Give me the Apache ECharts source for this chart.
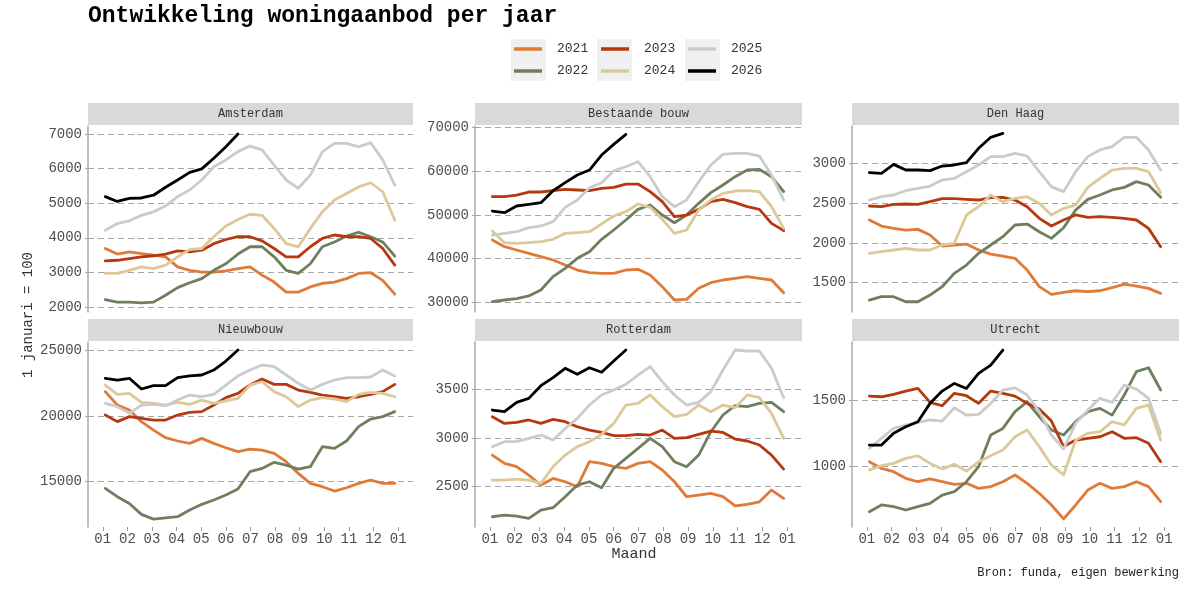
<!DOCTYPE html>
<html>
<head>
<meta charset="utf-8">
<script src="https://cdn.jsdelivr.net/npm/echarts@6/dist/echarts.min.js"></script>
<style>
  html, body { margin: 0; background: #fff; }
  #main { width: 1200px; height: 600px; }
</style>
</head>
<body>
<div id="main"></div>
<script>
// jaren en panelen
const years = ['2021', '2022', '2023', '2024', '2025', '2026']
const panelNames = ['Amsterdam', 'Bestaande bouw', 'Den Haag', 'Nieuwbouw', 'Rotterdam', 'Utrecht']
const monthLabels = ['01', '02', '03', '04', '05', '06', '07', '08', '09', '10', '11', '12', '01']

// meetmomenten (in maanden sinds 1 januari), ongeveer elke twee weken
const sampleMonths = [0.1, 0.59, 1.08, 1.57, 2.06, 2.55, 3.04, 3.53, 4.02, 4.51, 5.0, 5.49,
  5.98, 6.47, 6.96, 7.45, 7.94, 8.43, 8.92, 9.41, 9.9, 10.39, 10.88, 11.37, 11.86]

// aanbod per paneel, rijen = 2021 .. 2026
const amsterdam = [
  [3690, 3530, 3590, 3540, 3500, 3450, 3160, 3060, 3010, 3010, 3040, 3110, 3160, 2920, 2720, 2430, 2430, 2580, 2680, 2720, 2820, 2970, 2990, 2770, 2370],
  [2210, 2140, 2140, 2120, 2140, 2340, 2560, 2700, 2820, 3060, 3250, 3530, 3740, 3740, 3450, 3060, 2970, 3250, 3740, 3880, 4050, 4160, 4030, 3880, 3470],
  [3330, 3350, 3400, 3450, 3480, 3530, 3620, 3590, 3640, 3830, 3950, 4030, 4030, 3910, 3690, 3450, 3450, 3740, 3980, 4080, 4030, 4030, 3980, 3690, 3210],
  [2970, 2970, 3060, 3160, 3110, 3210, 3450, 3660, 3690, 4030, 4340, 4530, 4680, 4650, 4270, 3830, 3740, 4270, 4750, 5090, 5280, 5470, 5590, 5330, 4510],
  [4220, 4410, 4490, 4650, 4750, 4920, 5190, 5380, 5670, 6050, 6250, 6490, 6650, 6540, 6100, 5670, 5430, 5810, 6490, 6730, 6730, 6630, 6750, 6250, 5520],
  [5190, 5050, 5140, 5150, 5230, 5460, 5670, 5890, 5990, 6300, 6630, 7000]
]
const bestaandeBouw = [
  [44230, 42700, 41930, 41170, 40400, 39640, 38490, 37340, 36730, 36580, 36580, 37340, 37500, 36200, 33520, 30460, 30610, 33140, 34440, 35050, 35430, 35810, 35430, 35050, 32140],
  [30080, 30460, 30770, 31380, 32750, 35810, 37720, 40020, 41550, 44380, 46520, 48820, 51260, 52260, 49960, 48200, 49960, 52640, 55090, 56850, 58760, 60290, 60440, 58760, 55320],
  [54170, 54170, 54550, 55240, 55240, 55540, 55850, 55700, 55540, 56080, 56310, 57070, 57070, 55320, 53020, 49580, 49960, 51260, 53020, 53560, 52790, 51870, 51260, 48050, 46370],
  [46290, 43610, 43460, 43610, 43840, 44380, 45750, 45910, 46130, 47900, 49730, 50730, 52490, 51720, 48970, 45750, 46520, 51110, 53400, 54930, 55470, 55540, 55320, 51870, 46900],
  [45370, 45750, 46130, 47050, 47440, 48430, 51720, 53400, 56230, 57380, 60130, 61050, 62200, 58760, 54170, 51870, 53400, 57610, 61430, 63880, 64110, 64110, 63500, 59140, 53400],
  [50880, 50500, 52030, 52410, 52790, 55540, 57380, 59140, 60290, 63730, 66180, 68470]
]
const denHaag = [
  [2288, 2212, 2183, 2162, 2170, 2099, 1961, 1974, 1986, 1911, 1860, 1835, 1806, 1659, 1450, 1353, 1378, 1399, 1387, 1399, 1437, 1483, 1458, 1429, 1366],
  [1282, 1324, 1324, 1261, 1261, 1345, 1450, 1617, 1722, 1869, 1974, 2078, 2225, 2237, 2141, 2057, 2190, 2413, 2547, 2602, 2665, 2698, 2770, 2728, 2573],
  [2464, 2455, 2485, 2489, 2485, 2518, 2556, 2556, 2547, 2539, 2568, 2573, 2539, 2455, 2309, 2212, 2288, 2351, 2321, 2330, 2321, 2309, 2288, 2183, 1953],
  [1869, 1890, 1911, 1932, 1911, 1911, 1974, 1995, 2351, 2455, 2602, 2518, 2560, 2581, 2497, 2351, 2434, 2476, 2698, 2811, 2916, 2937, 2937, 2895, 2631],
  [2539, 2581, 2602, 2656, 2686, 2715, 2790, 2811, 2895, 2979, 3084, 3084, 3126, 3092, 2895, 2707, 2644, 2895, 3084, 3168, 3210, 3327, 3327, 3168, 2916],
  [2883, 2874, 2987, 2916, 2916, 2908, 2966, 2979, 3008, 3189, 3327, 3377]
]
const nieuwbouw = [
  [21840, 20820, 20440, 19560, 18920, 18340, 18090, 17910, 18290, 17910, 17580, 17280, 17480, 17400, 17150, 16520, 15630, 14870, 14620, 14290, 14540, 14870, 15130, 14870, 14870],
  [14490, 13860, 13350, 12520, 12160, 12260, 12340, 12850, 13280, 13610, 13990, 14440, 15760, 16010, 16470, 16260, 15960, 16140, 17660, 17530, 18090, 19180, 19760, 19940, 20320],
  [20060, 19560, 19940, 19810, 19680, 19680, 20060, 20270, 20320, 20820, 21380, 21710, 22340, 22800, 22390, 22390, 21960, 21780, 21580, 21450, 21330, 21450, 21630, 21840, 22390],
  [22340, 21630, 21710, 21030, 20950, 20820, 21030, 20870, 21200, 20950, 21130, 21330, 22340, 22590, 21840, 21450, 20700, 21200, 21380, 21280, 21080, 21630, 21780, 21710, 21450],
  [20950, 20700, 20190, 20820, 20870, 20770, 21200, 21580, 21450, 21630, 22340, 23030, 23480, 23860, 23730, 23100, 22470, 21960, 22390, 22720, 22900, 22900, 22950, 23480, 23030],
  [22850, 22720, 22850, 22040, 22290, 22290, 22900, 23030, 23100, 23480, 24160, 25000]
]
const rotterdam = [
  [2824, 2739, 2705, 2619, 2517, 2585, 2551, 2500, 2756, 2739, 2705, 2688, 2739, 2756, 2671, 2551, 2398, 2415, 2432, 2398, 2305, 2319, 2346, 2466, 2381],
  [2193, 2210, 2200, 2176, 2261, 2285, 2398, 2517, 2551, 2490, 2688, 2790, 2892, 2995, 2910, 2756, 2705, 2824, 3063, 3234, 3329, 3319, 3353, 3363, 3268],
  [3217, 3148, 3159, 3183, 3148, 3189, 3165, 3114, 3080, 3056, 3022, 3022, 3036, 3029, 3080, 2995, 3002, 3036, 3070, 3056, 2988, 2968, 2927, 2824, 2681],
  [2568, 2568, 2578, 2568, 2534, 2705, 2824, 2910, 2961, 3036, 3148, 3336, 3353, 3439, 3319, 3217, 3241, 3336, 3268, 3336, 3309, 3439, 3411, 3251, 2995],
  [2910, 2961, 2961, 2995, 3029, 2978, 3097, 3200, 3336, 3439, 3490, 3548, 3643, 3729, 3575, 3439, 3336, 3363, 3473, 3695, 3899, 3889, 3889, 3712, 3411],
  [3285, 3268, 3363, 3404, 3534, 3616, 3712, 3650, 3718, 3671, 3787, 3899]
]
const utrecht = [
  [1038, 987, 962, 912, 886, 907, 886, 866, 874, 836, 849, 886, 937, 874, 798, 710, 604, 710, 823, 874, 836, 849, 886, 849, 735],
  [659, 710, 697, 672, 697, 722, 785, 811, 886, 1000, 1240, 1290, 1417, 1492, 1379, 1278, 1240, 1341, 1417, 1442, 1391, 1543, 1720, 1750, 1581],
  [1535, 1530, 1548, 1573, 1593, 1487, 1462, 1556, 1538, 1480, 1573, 1556, 1535, 1480, 1437, 1346, 1152, 1202, 1215, 1227, 1265, 1215, 1220, 1177, 1038],
  [975, 1008, 1025, 1063, 1083, 1025, 982, 1018, 967, 1038, 1083, 1126, 1227, 1278, 1152, 1013, 937, 1202, 1253, 1265, 1341, 1316, 1442, 1467, 1202],
  [1139, 1215, 1290, 1316, 1336, 1354, 1346, 1447, 1391, 1396, 1480, 1581, 1598, 1543, 1417, 1240, 1134, 1328, 1429, 1518, 1487, 1619, 1588, 1518, 1253],
  [1164, 1164, 1253, 1303, 1341, 1480, 1573, 1631, 1593, 1707, 1770, 1884]
]

// y-as tickwaarden per paneel
const yTicks = [
  [2000, 3000, 4000, 5000, 6000, 7000],
  [30000, 40000, 50000, 60000, 70000],
  [1500, 2000, 2500, 3000],
  [15000, 20000, 25000],
  [2500, 3000, 3500],
  [1000, 1500]
]

const panelData = [amsterdam, bestaandeBouw, denHaag, nieuwbouw, rotterdam, utrecht]

// opmaak
const FONT = 'Liberation Mono'
const yearColors = ['#E07A38', '#6E7F5E', '#B5380F', '#DDC898', '#CBCBCB', '#000000']
const yRanges = [[1855, 7230], [27705, 70390], [1132, 3469], [11560, 25607], [2088, 3981], [543, 1945]]
const gridBoxes = [
  { left: 88, top: 126, width: 325, height: 186 },
  { left: 475, top: 126, width: 327, height: 186 },
  { left: 852, top: 126, width: 327, height: 186 },
  { left: 88, top: 342, width: 325, height: 185 },
  { left: 475, top: 342, width: 327, height: 185 },
  { left: 852, top: 342, width: 327, height: 185 }
]
const monthTicks = monthLabels.map((_, i) => i)

const chart = echarts.init(document.getElementById('main'))

const grid = []
const xAxis = []
const yAxis = []
const series = []
const graphic = []

panelData.forEach((rows, p) => {
  const box = gridBoxes[p]
  const bottomRow = p >= 3
  grid.push({ left: box.left, top: box.top, width: box.width, height: box.height })
  xAxis.push({
    type: 'value',
    gridIndex: p,
    min: -0.6,
    max: 12.6,
    axisLine: { show: false },
    axisTick: { show: bottomRow, length: 4, customValues: monthTicks, lineStyle: { color: '#9a9a9a', width: 1 } },
    axisLabel: {
      show: bottomRow,
      customValues: monthTicks,
      formatter: (v) => monthLabels[Math.round(v)],
      color: '#4d4d4d',
      fontFamily: FONT,
      fontSize: 14,
      margin: 5
    },
    splitLine: { show: false }
  })
  yAxis.push({
    type: 'value',
    gridIndex: p,
    min: yRanges[p][0],
    max: yRanges[p][1],
    axisLine: { show: true, onZero: false, lineStyle: { color: '#ababab', width: 1.5 } },
    axisTick: { show: true, length: 3, customValues: yTicks[p], lineStyle: { color: '#ababab', width: 1.2 } },
    axisLabel: {
      customValues: yTicks[p],
      formatter: (v) => String(v),
      color: '#4d4d4d',
      fontFamily: FONT,
      fontSize: 14,
      margin: 6
    },
    splitLine: { show: true, lineStyle: { type: [6, 4], color: '#a6a6a6', width: 1.2 } }
  })
  rows.forEach((vals, k) => {
    series.push({
      name: years[k],
      type: 'line',
      xAxisIndex: p,
      yAxisIndex: p,
      data: vals.map((v, i) => [sampleMonths[i], v]),
      showSymbol: false,
      symbol: 'none',
      silent: true,
      color: yearColors[k],
      lineStyle: { width: 2.8, color: yearColors[k], cap: 'round', join: 'round' }
    })
  })
  // paneel-kop
  graphic.push({
    type: 'rect',
    shape: { x: box.left, y: box.top - 23, width: box.width, height: 22 },
    style: { fill: '#d9d9d9' },
    silent: true
  })
  graphic.push({
    type: 'text',
    x: box.left + box.width / 2,
    y: box.top - 12,
    style: { text: panelNames[p], align: 'center', verticalAlign: 'middle', fill: '#333', font: `12px "${FONT}"` },
    silent: true
  })
})

// grijze vlakjes achter de legendasleutels
;[511, 597, 685].forEach((x) => {
  graphic.push({
    type: 'rect',
    z: -1,
    shape: { x: x, y: 39, width: 35, height: 42 },
    style: { fill: '#f0f0f0' },
    silent: true
  })
})

graphic.push({
  type: 'text',
  x: 28,
  y: 315,
  rotation: Math.PI / 2,
  style: { text: '1 januari = 100', align: 'center', verticalAlign: 'middle', fill: '#333', font: `14px "${FONT}"` },
  silent: true
})
graphic.push({
  type: 'text',
  x: 634,
  y: 554,
  style: { text: 'Maand', align: 'center', verticalAlign: 'middle', fill: '#333', font: `15px "${FONT}"` },
  silent: true
})
graphic.push({
  type: 'text',
  x: 1179,
  y: 573,
  style: { text: 'Bron: funda, eigen bewerking', align: 'right', verticalAlign: 'middle', fill: '#222', font: `12px "${FONT}"` },
  silent: true
})

const legend = [0, 1, 2].map((c) => ({
  orient: 'vertical',
  left: 514 + c * 87,
  top: 42,
  padding: 0,
  data: years.slice(c * 2, c * 2 + 2),
  icon: 'rect',
  itemWidth: 28,
  itemHeight: 3.5,
  itemGap: 8,
  selectedMode: false,
  textStyle: { fontFamily: FONT, fontSize: 13, color: '#333', padding: [0, 0, 0, 10], lineHeight: 14 }
}))

chart.setOption({
  animation: false,
  backgroundColor: '#fff',
  title: {
    text: 'Ontwikkeling woningaanbod per jaar',
    left: 88,
    top: 5,
    padding: 0,
    textStyle: { fontFamily: FONT, fontWeight: 'bold', fontSize: 23, color: '#000' }
  },
  legend,
  grid,
  xAxis,
  yAxis,
  series,
  graphic
})
</script>
</body>
</html>
